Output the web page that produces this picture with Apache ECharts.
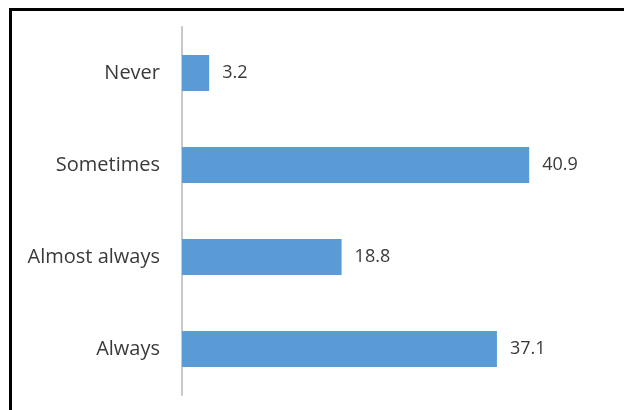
<!DOCTYPE html>
<html><head><meta charset="utf-8">
<script src="https://cdn.jsdelivr.net/npm/echarts@6/dist/echarts.min.js"></script>
<style>html,body{margin:0;padding:0;background:#fff}#c{width:624px;height:410px}</style>
</head><body><div id="c"></div>
<script>
const categories = ['Never', 'Sometimes', 'Almost always', 'Always'];
const values = [3.2, 40.9, 18.8, 37.1];

const chart = echarts.init(document.getElementById('c'), null, {renderer: 'canvas'});
const font = 'Open Sans';
chart.setOption({
  animation: false,
  backgroundColor: '#fff',
  graphic: [{
    type: 'rect', shape: {x: 10.5, y: 9.5, width: 800, height: 600},
    style: {fill: 'none', stroke: '#000', lineWidth: 3}, z: 100
  }],
  grid: {left: 182, top: 27, width: 382, height: 368, containLabel: false},
  xAxis: {
    type: 'value', min: 0, max: 45, show: false
  },
  yAxis: {
    type: 'category', data: categories, inverse: true,
    axisLine: {show: true, lineStyle: {color: '#C8C8C8', width: 2}},
    axisTick: {show: false},
    axisLabel: {color: '#3A3A3A', fontFamily: font, fontSize: 20, margin: 22}
  },
  series: [{
    type: 'bar', data: values, barWidth: 36,
    itemStyle: {color: '#5B9BD5'},
    label: {show: true, position: 'right', distance: 13, color: '#3A3A3A', fontFamily: font, fontSize: 18,
      formatter: p => p.value.toFixed(1)}
  }]
});
</script></body></html>
